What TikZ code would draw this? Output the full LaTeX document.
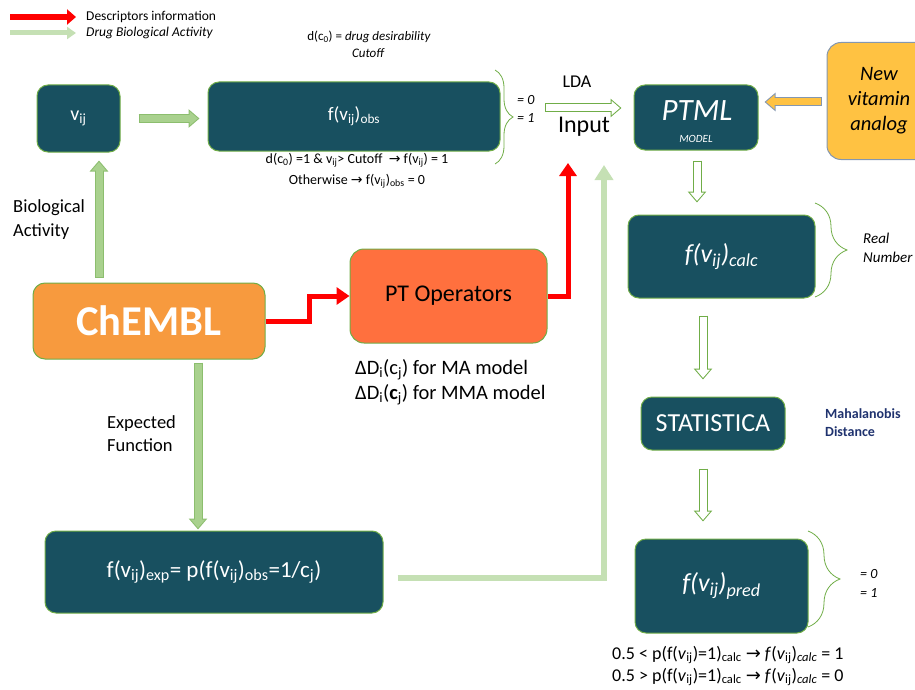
\documentclass[tikz,border=0pt]{standalone}
\usepackage{fontspec}
\setmainfont{Carlito}
\newfontfamily\symfont{DejaVu Sans}
\usepackage{tikz}
\usetikzlibrary{arrows.meta, decorations.pathreplacing}

\definecolor{boxteal}{RGB}{24,80,96}
\definecolor{boxgreen}{RGB}{112,173,71}
\definecolor{arrgreen}{RGB}{169,209,142}
\definecolor{arredge}{RGB}{140,190,110}
\definecolor{paleline}{RGB}{197,224,180}
\definecolor{chemorange}{RGB}{247,154,62}
\definecolor{ptorange}{RGB}{255,112,62}
\definecolor{vitgold}{RGB}{255,194,66}
\definecolor{vitblue}{RGB}{132,151,176}
\definecolor{mahablue}{RGB}{31,50,110}
\definecolor{descred}{RGB}{255,0,0}

\newcommand{\sbs}[1]{\textsubscript{#1}}
\newcommand{\arr}{{\symfont →}}
\newcommand{\fs}[2]{\fontsize{#1}{#2}\selectfont}

\tikzset{
    box/.style={draw=boxgreen, line width=1pt, fill=boxteal, rounded corners=11pt,
        text=white, align=center, inner sep=0pt},
    note/.style={align=center, inner sep=0pt},
    % block arrow: edge colour, fill colour, gap at start, gap at end
    blk/.style n args={4}{draw=#1, line width=9pt, shorten <=#3, shorten >=#4,
        -{Triangle[length=11pt, width=18pt]},
        postaction={draw=#2, line width=7pt, shorten <=#3+1pt, shorten >=#4+1.6pt,
        -{Triangle[length=8.4pt, width=13.8pt]}}},
    redline/.style={draw=descred, line width=5pt, -{Triangle[length=13pt, width=17pt]}},
    paleln/.style={draw=paleline, line width=6pt, -{Triangle[length=15pt, width=18pt]}},
    brc/.style={decorate, decoration={brace, amplitude=#1}, draw=boxgreen, line width=0.8pt},
}

\begin{document}
\begin{tikzpicture}[x=1pt, y=-1pt]
    \useasboundingbox (0,0) rectangle (915,690);

    % legend
    \coordinate (lr1) at (10,17);
    \coordinate (lr2) at (76,17);
    \coordinate (lg1) at (10,33);
    \coordinate (lg2) at (76,33);
    \draw [draw=descred, line width=6pt, -{Triangle[length=9pt, width=15pt]}] (lr1) -- (lr2);
    \draw [draw=paleline, line width=5pt, -{Triangle[length=9pt, width=12pt]}] (lg1) -- (lg2);
    \node[anchor=west, inner sep=0pt, font=\fs{13.5}{15}] (lgred) at (86,17) {Descriptors information};
    \node[anchor=west, inner sep=0pt, font=\fs{13.5}{15}\itshape] (lggreen) at (86,33) {Drug Biological Activity};

    \node[note, font=\fs{13}{15}] (desir) at (369,37) {d(c\sbs{0}) = \textit{drug desirability}};
    \node[note, font=\fs{13}{15}\itshape] (cutoff) at (368,53) {Cutoff};

    % top row
    \node[box, minimum width=83pt, minimum height=67pt, font=\fs{20}{24}] (vij) at (78.5,118.5) {v\sbs{ij}};
    \node[box, minimum width=292pt, minimum height=69pt, font=\fs{19}{23}] (obs) at (354,116.5) {f(v\sbs{ij})\sbs{obs}};
    \node[note, font=\fs{14}{21}] (rule) at (357,171) {d(c\sbs{0}) =1 \& v\sbs{ij}> Cutoff \ \arr\ f(v\sbs{ij}) = 1\\
        Otherwise \arr\ f(v\sbs{ij})\sbs{obs} = 0};
    \draw[brc=18pt] (495,70) -- (495,164);
    \node[anchor=west, align=left, inner sep=0pt, font=\fs{14}{18}\itshape] (eqobs) at (517,109) {= 0\\= 1};

    \node[note, font=\fs{18}{20}] (lda) at (577,82) {LDA};
    \node[note, font=\fs{24}{26}] (input) at (584,127) {Input};

    \node[box, minimum width=124pt, minimum height=65pt] (ptml) at (696,117.5) {};
    \node[note, text=white, font=\fs{31}{33}\itshape] (ptmltxt) at (697,111) {PTML};
    \node[note, text=white, font=\fs{11}{12}\itshape] (model) at (696,139) {MODEL};

    \node[draw=vitblue, line width=1pt, fill=vitgold, rounded corners=14pt, align=center,
        minimum width=104pt, minimum height=117pt, inner sep=0pt, font=\fs{20.5}{25}\itshape] (vit) at (879,101) {New\\vitamin\\analog};

    % right column
    \node[box, minimum width=187pt, minimum height=83pt, font=\fs{26}{28}\itshape] (calc) at (721.5,256.5) {f(v\sbs{ij})\sbs{calc}};
    \draw[brc=32pt] (815,203) -- (815,297);
    \node[anchor=west, align=left, inner sep=0pt, font=\fs{15}{19}\itshape] (real) at (863,248) {Real\\Number};

    \node[box, minimum width=144pt, minimum height=53pt, font=\fs{26}{28}] (stat) at (713,423.5) {STATISTICA};
    \node[anchor=west, align=left, inner sep=0pt, text=mahablue, font=\fs{14}{18}\bfseries] (maha) at (825,423) {Mahalanobis\\Distance};

    \node[box, minimum width=173pt, minimum height=94pt, font=\fs{26}{28}\itshape] (pred) at (721.5,586) {f(v\sbs{ij})\sbs{pred}};
    \draw[brc=32pt] (808,531) -- (808,627);
    \node[anchor=west, align=left, inner sep=0pt, font=\fs{14}{19}\itshape] (eqpred) at (860,583) {= 0\\= 1};
    \node[anchor=west, align=left, inner sep=0pt, font=\fs{18}{22}] (thresh) at (612,666)
        {0.5 < p(f(\textit{v}\sbs{ij})=1)\sbs{calc} \arr\ \textit{f}(\textit{v}\sbs{ij})\textit{\sbs{calc}} = 1\\
         0.5 > p(f(\textit{v}\sbs{ij})=1)\sbs{calc} \arr\ \textit{f}(\textit{v}\sbs{ij})\textit{\sbs{calc}} = 0};

    % left and middle
    \node[draw=boxgreen, line width=1pt, fill=chemorange, rounded corners=12pt, text=white,
        minimum width=232pt, minimum height=76pt, inner sep=0pt, font=\fs{42.5}{46}\bfseries] (chembl) at (149,321) {ChEMBL};
    \node[draw=boxgreen, line width=1pt, fill=ptorange, rounded corners=14pt,
        minimum width=197pt, minimum height=94pt, inner sep=0pt, font=\fs{24}{26}] (pt) at (448.5,296) {PT Operators};
    \node[anchor=west, align=left, inner sep=0pt, font=\fs{20.5}{25}] (delta) at (355,382)
        {ΔD\sbs{i}(c\sbs{j}) for MA model\\ΔD\sbs{i}(\textbf{c}\sbs{j}) for MMA model};
    \node[anchor=west, align=left, inner sep=0pt, font=\fs{18.5}{24}] (bio) at (13,220) {Biological\\Activity};
    \node[anchor=west, align=left, inner sep=0pt, font=\fs{18.5}{23}] (expf) at (107,434) {Expected\\Function};

    \node[box, minimum width=338pt, minimum height=82pt, font=\fs{23}{25}] (exp) at (214,572)
        {f(v\sbs{ij})\sbs{exp}= p(f(v\sbs{ij})\sbs{obs}=1/c\sbs{j})};

    % connectors
    \draw[blk={arredge}{arrgreen}{18pt}{8pt}] (vij.east) -- (vij.east -| obs.west);
    \draw[blk={arredge}{arrgreen}{5pt}{8pt}] (chembl.north -| 99,0) -- (vij.south -| 99,0);
    \draw[blk={arredge}{arrgreen}{3pt}{1pt}] (chembl.south -| 198,0) -- (exp.north -| 198,0);

    \coordinate (inp) at (545,108);
    \draw[blk={boxgreen}{white}{0pt}{12pt}] (inp) -- (inp -| ptml.west);
    \draw[blk={vitblue}{vitgold}{5pt}{6pt}] (vit.west |- 0,102) -- (ptml.east |- 0,102);
    \draw[blk={boxgreen}{white}{10pt}{12pt}] (ptml.south -| 697,0) -- (calc.north -| 697,0);
    \draw[blk={boxgreen}{white}{17pt}{17pt}] (calc.south -| 703,0) -- (stat.north -| 703,0);
    \draw[blk={boxgreen}{white}{18pt}{17pt}] (stat.south -| 703,0) -- (pred.north -| 703,0);

    \coordinate (redtip) at (568,163);
    \coordinate (greentip) at (604,165);
    \draw[redline] (chembl.east) -- ++(44,0) |- (pt.west);
    \draw[redline] (pt.east) -| (redtip);
    \draw[paleln, shorten <=14pt] ([yshift=-6pt]exp.east) -| (greentip);
\end{tikzpicture}
\end{document}
